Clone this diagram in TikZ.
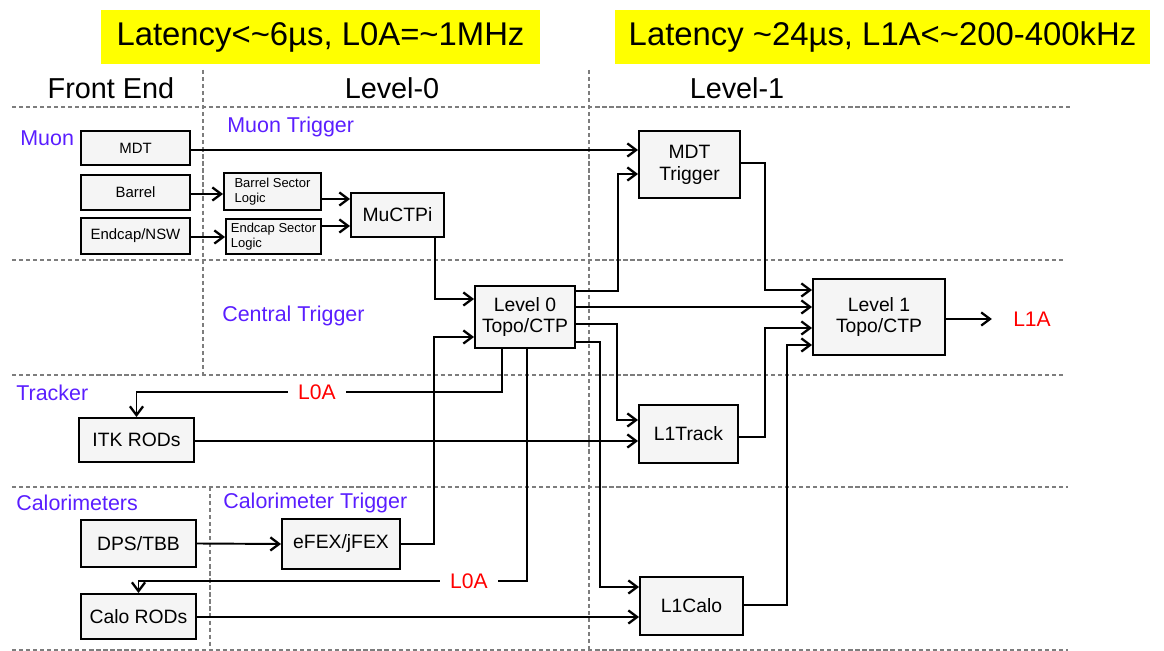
\documentclass[tikz,border=0pt]{standalone}
\usepackage{fontspec}
\setmainfont{Liberation Sans}
\usetikzlibrary{arrows.meta}
\definecolor{lblue}{RGB}{90,30,255}
\definecolor{boxfill}{RGB}{245,245,245}
\definecolor{dashgray}{RGB}{125,125,125}
\definecolor{hlyellow}{RGB}{255,255,0}
\begin{document}
\begin{tikzpicture}[x=0.02cm,y=-0.02cm,
  box/.style={draw=black, line width=1.1pt, fill=boxfill, inner sep=0pt, align=center,
    font=\fontsize{11}{12.5}\selectfont},
  smallbox/.style={box, font=\fontsize{8.5}{10}\selectfont},
  logicbox/.style={box, align=left, font=\fontsize{7.4}{8.2}\selectfont},
  conn/.style={line width=1.1pt, draw=black},
  arr/.style={conn, -{Straight Barb[length=5pt,width=7.5pt,line width=1.3pt]}},
  divider/.style={draw=dashgray, line width=0.8pt, dash pattern=on 2.4pt off 1.6pt},
  grouplbl/.style={text=lblue, font=\fontsize{12.2}{14}\selectfont, anchor=west, inner sep=0pt},
  header/.style={font=\fontsize{16.4}{18}\selectfont, inner sep=0pt},
  redlbl/.style={text=red, font=\fontsize{12}{14}\selectfont, inner ysep=0pt, inner xsep=0.2cm},
  banner/.style={fill=hlyellow, font=\fontsize{18.7}{20}\selectfont, inner sep=0pt}
]
\useasboundingbox (0,0) rectangle (1164,651);

% banners
\node[banner, minimum width=8.78cm, minimum height=1.08cm] (ban0) at (320.5,37) {Latency<\textasciitilde6µs, L0A=\textasciitilde1MHz};
\node[banner, minimum width=10.7cm, minimum height=1.08cm] (ban1) at (882.5,37) {Latency \textasciitilde24µs, L1A<\textasciitilde200-400kHz};

% headers
\node[header] (hfe) at (111,88) {Front End};
\node[header] (hl0) at (392,88) {Level-0};
\node[header] (hl1) at (737,88) {Level-1};

% dashed dividers
\draw[divider] (12,107) -- (1071,107);
\draw[divider] (12,260) -- (1066,260);
\draw[divider] (12,375) -- (1066,375);
\draw[divider] (12,487) -- (1068,487);
\draw[divider] (12,650) -- (1068,650);
\draw[divider] (203,70) -- (203,375);
\draw[divider] (210,487) -- (210,650);
\draw[divider] (589,70) -- (589,650);

% group labels
\node[grouplbl] (lmuon) at (20,138) {Muon};
\node[grouplbl] (lmutrig) at (227,127) {Muon Trigger};
\node[grouplbl] (lcentral) at (222,316) {Central Trigger};
\node[grouplbl] (ltracker) at (16,393) {Tracker};
\node[grouplbl] (lcalo) at (16,503) {Calorimeters};
\node[grouplbl] (lcalotrig) at (223,503) {Calorimeter Trigger};

% boxes
\node[smallbox, minimum width=2.18cm, minimum height=0.68cm] (mdt) at (135.5,148) {MDT};
\node[smallbox, minimum width=2.18cm, minimum height=0.70cm] (barrel) at (135.5,192.5) {Barrel};
\node[smallbox, minimum width=2.18cm, minimum height=0.72cm] (endcap) at (135.5,236) {Endcap/NSW};
\node[logicbox, minimum width=1.94cm, minimum height=0.74cm] (bsl) at (272.5,191.5) {Barrel Sector\\Logic};
\node[logicbox, minimum width=1.90cm, minimum height=0.70cm] (esl) at (273.5,236.5) {Endcap Sector\\Logic};
\node[box, minimum width=1.86cm, minimum height=0.88cm] (muctpi) at (397.5,215) {MuCTPi};
\node[box, minimum width=2.00cm, minimum height=1.24cm] (l0) at (525,317) {Level 0\\Topo/CTP};
\node[box, minimum width=2.02cm, minimum height=1.34cm] (mdttrig) at (689.5,164.5) {MDT\\Trigger};
\node[box, minimum width=2.64cm, minimum height=1.52cm] (l1) at (879,317) {Level 1\\Topo/CTP};
\node[box, minimum width=1.98cm, minimum height=1.16cm] (l1track) at (688.5,434) {L1Track};
\node[box, minimum width=2.06cm, minimum height=1.16cm] (l1calo) at (691.5,606) {L1Calo};
\node[box, minimum width=2.30cm, minimum height=0.88cm] (itk) at (136.5,440) {ITK RODs};
\node[box, minimum width=2.30cm, minimum height=0.94cm] (dps) at (138.5,543.5) {DPS/TBB};
\node[box, minimum width=2.36cm, minimum height=1.00cm] (efex) at (341,544) {eFEX/jFEX};
\node[box, minimum width=2.30cm, minimum height=0.90cm] (calorods) at (138.5,616.5) {Calo RODs};

% red labels
\node[redlbl] (l0a1) at (317,392) {L0A};
\node[redlbl] (l0a2) at (469,581) {L0A};
\node[redlbl, inner xsep=0.42cm] (l1a) at (1032,319) {L1A};

% muon connectors
\draw[arr] (mdt.east |- 0,150) -- (mdttrig.west |- 0,150);
\draw[arr] (barrel.east |- 0,194) -- (bsl.west |- 0,194);
\draw[arr] (endcap.east |- 0,237) -- (esl.west |- 0,237);
\draw[arr] (bsl.east |- 0,199) -- (muctpi.west |- 0,199);
\draw[arr] (esl.east |- 0,226) -- (muctpi.west |- 0,226);
\draw[arr] (muctpi.south -| 435,0) |- (l0.west |- 0,299);

% calorimeter to level 0
\draw[arr] (dps.east) -- (efex.west);
\draw[arr] (efex.east) -- (efex.east -| 434,0) |- (l0.west |- 0,337);

% level 0 outputs
\draw[arr] (l0.east |- 0,291) -| (618,174) -- (mdttrig.west |- 0,174);
\draw[arr] (l0.east |- 0,307) -- (l1.west |- 0,307);
\draw[arr] (l0.east |- 0,324) -| (617,420) -- (l1track.west |- 0,420);
\draw[arr] (l0.east |- 0,342) -| (600,587) -- (l1calo.west |- 0,587);

% L0A distribution
\draw[conn] (l0.south -| 502,0) |- (l0a1.east);
\draw[arr] (l0a1.west) -| (itk.north);
\draw[conn] (l0.south -| 527,0) |- (l0a2.east);
\draw[arr] (l0a2.west) -| (calorods.north);

% readout to level 1
\draw[arr] (itk.east |- 0,441) -- (l1track.west |- 0,441);
\draw[arr] (calorods.east |- 0,617) -- (l1calo.west |- 0,617);

% level 1 inputs
\draw[arr] (mdttrig.east |- 0,163) -| (765,290) -- (l1.west |- 0,290);
\draw[arr] (l1track.east |- 0,437) -| (765,328) -- (l1.west |- 0,328);
\draw[arr] (l1calo.east |- 0,605) -| (787,345) -- (l1.west |- 0,345);
\draw[arr] (l1.east |- 0,319) -- (l1a.west);
\end{tikzpicture}
\end{document}
